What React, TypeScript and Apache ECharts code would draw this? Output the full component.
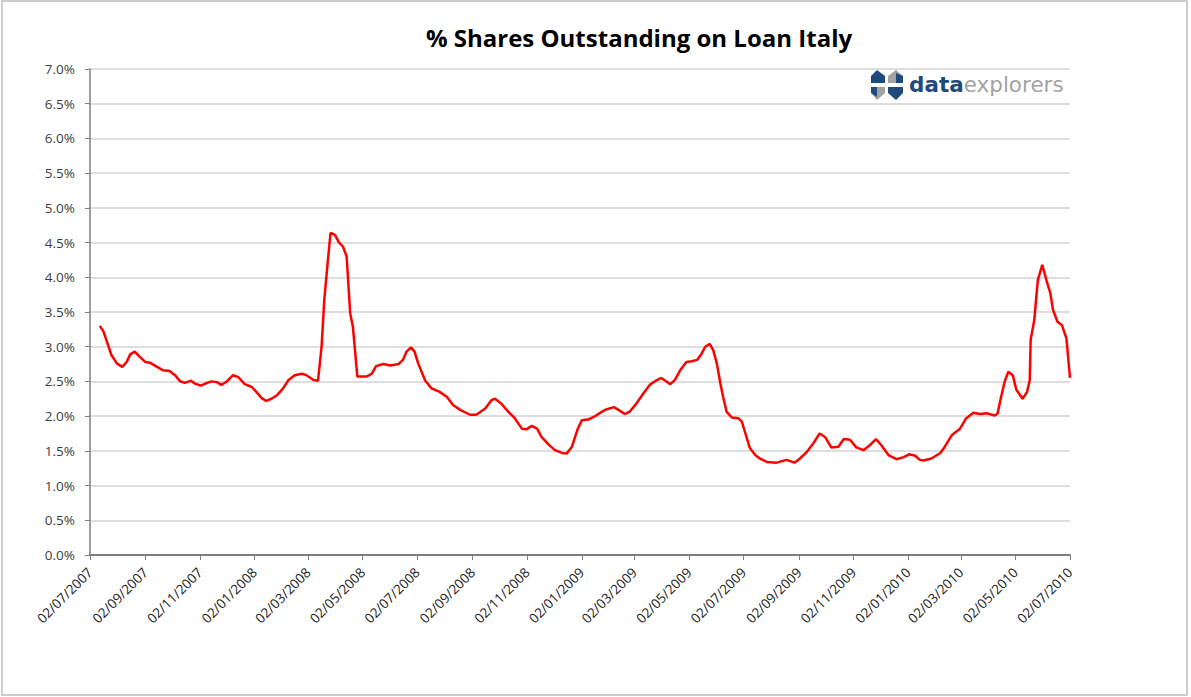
import React, { useEffect, useRef } from "react";
import * as echarts from "echarts";

const chartTitle = "% Shares Outstanding on Loan Italy";

const dates: string[] = [
  "2007-07-13","2007-07-17","2007-07-21","2007-07-26","2007-08-01","2007-08-07","2007-08-12","2007-08-16","2007-08-21","2007-08-27",
  "2007-09-02","2007-09-07","2007-09-15","2007-09-22","2007-09-29","2007-10-05","2007-10-11","2007-10-16","2007-10-23","2007-10-27",
  "2007-11-03","2007-11-08","2007-11-15","2007-11-21","2007-11-26","2007-12-02","2007-12-09","2007-12-15","2007-12-22","2007-12-30",
  "2008-01-04","2008-01-10","2008-01-15","2008-01-21","2008-01-27","2008-02-03","2008-02-09","2008-02-16","2008-02-24","2008-02-29",
  "2008-03-08","2008-03-13","2008-03-17","2008-03-20","2008-03-23","2008-03-27","2008-04-01","2008-04-05","2008-04-10","2008-04-14",
  "2008-04-18","2008-04-21","2008-04-26","2008-05-06","2008-05-12","2008-05-17","2008-05-25","2008-06-02","2008-06-11","2008-06-16",
  "2008-06-20","2008-06-25","2008-06-29","2008-07-03","2008-07-11","2008-07-18","2008-07-27","2008-08-04","2008-08-11","2008-08-19",
  "2008-08-30","2008-09-06","2008-09-16","2008-09-23","2008-09-27","2008-10-04","2008-10-12","2008-10-19","2008-10-27","2008-11-01",
  "2008-11-07","2008-11-13","2008-11-18","2008-11-26","2008-12-03","2008-12-11","2008-12-16","2008-12-22","2008-12-28","2009-01-02",
  "2009-01-09","2009-01-17","2009-01-24","2009-01-30","2009-02-07","2009-02-12","2009-02-19","2009-02-25","2009-03-04","2009-03-12",
  "2009-03-19","2009-03-27","2009-04-01","2009-04-11","2009-04-16","2009-04-22","2009-04-29","2009-05-05","2009-05-11","2009-05-16",
  "2009-05-20","2009-05-25","2009-05-29","2009-06-02","2009-06-06","2009-06-09","2009-06-13","2009-06-19","2009-06-26","2009-06-30",
  "2009-07-04","2009-07-09","2009-07-15","2009-07-20","2009-07-28","2009-08-08","2009-08-19","2009-08-28","2009-09-03","2009-09-11",
  "2009-09-18","2009-09-25","2009-10-01","2009-10-08","2009-10-16","2009-10-22","2009-10-29","2009-11-05","2009-11-13","2009-11-20",
  "2009-11-27","2009-12-03","2009-12-11","2009-12-20","2009-12-28","2010-01-03","2010-01-10","2010-01-15","2010-01-19","2010-01-28",
  "2010-02-07","2010-02-12","2010-02-20","2010-03-01","2010-03-08","2010-03-16","2010-03-23","2010-03-31","2010-04-09","2010-04-12",
  "2010-04-16","2010-04-20","2010-04-24","2010-04-29","2010-05-03","2010-05-10","2010-05-15","2010-05-18","2010-05-19","2010-05-23",
  "2010-05-27","2010-06-01","2010-06-06","2010-06-10","2010-06-13","2010-06-18","2010-06-23","2010-06-28","2010-07-02"
];

const loanPct: number[] = [
  3.30,3.22,3.07,2.88,2.76,2.71,2.78,2.89,2.93,2.85,
  2.78,2.77,2.71,2.66,2.65,2.59,2.50,2.48,2.51,2.47,
  2.44,2.47,2.50,2.49,2.45,2.50,2.59,2.56,2.46,2.42,
  2.35,2.26,2.22,2.25,2.30,2.40,2.52,2.59,2.61,2.59,
  2.52,2.51,3.00,3.67,4.10,4.64,4.61,4.51,4.44,4.30,
  3.48,3.29,2.57,2.57,2.61,2.72,2.75,2.73,2.75,2.81,
  2.93,2.99,2.93,2.76,2.51,2.40,2.35,2.28,2.16,2.09,
  2.02,2.02,2.11,2.23,2.25,2.18,2.06,1.97,1.82,1.81,
  1.86,1.82,1.70,1.59,1.51,1.47,1.46,1.56,1.80,1.94,
  1.95,2.00,2.06,2.10,2.13,2.09,2.03,2.07,2.18,2.33,
  2.45,2.52,2.55,2.46,2.52,2.66,2.78,2.79,2.81,2.90,
  3.00,3.04,2.95,2.76,2.47,2.28,2.06,1.98,1.97,1.92,
  1.75,1.54,1.44,1.39,1.34,1.33,1.37,1.33,1.39,1.49,
  1.61,1.75,1.70,1.55,1.56,1.67,1.66,1.55,1.51,1.58,
  1.67,1.58,1.44,1.38,1.41,1.45,1.43,1.37,1.36,1.39,
  1.47,1.56,1.73,1.82,1.97,2.05,2.03,2.04,2.01,2.04,
  2.28,2.50,2.64,2.59,2.38,2.25,2.35,2.52,3.10,3.38,
  3.96,4.18,3.94,3.77,3.53,3.36,3.31,3.12,2.55
];

const tickDates: string[] = [
  "2007-07-02","2007-09-02","2007-11-02","2008-01-02","2008-03-02","2008-05-02","2008-07-02",
  "2008-09-02","2008-11-02","2009-01-02","2009-03-02","2009-05-02","2009-07-02","2009-09-02",
  "2009-11-02","2010-01-02","2010-03-02","2010-05-02","2010-07-02"
];

const yMin = 0;
const yMax = 7;
const yStep = 0.5;

const DAY = 86400000;
const toDay = (s: string) => {
  const [y, m, d] = s.split("-").map(Number);
  return Math.round(Date.UTC(y, m - 1, d) / DAY);
};
const fmtDay = (v: number) => {
  const dt = new Date(Math.round(v) * DAY);
  const dd = String(dt.getUTCDate()).padStart(2, "0");
  const mm = String(dt.getUTCMonth() + 1).padStart(2, "0");
  return `${dd}/${mm}/${dt.getUTCFullYear()}`;
};

export default function App() {
  const ref = useRef<HTMLDivElement>(null);
  useEffect(() => {
    if (!ref.current) return;
    const chart = echarts.init(ref.current, undefined, { renderer: "svg" });
    const ticks = tickDates.map(toDay);
    const navy = "#1f4a7c";
    const grey = "#a3a3a3";
    chart.setOption({
      animation: false,
      backgroundColor: "#ffffff",
      title: {
        text: chartTitle,
        left: 634,
        top: 20,
        textAlign: "center",
        textStyle: { fontFamily: "Open Sans", fontWeight: "bold", fontSize: 24, color: "#000000" },
      },
      grid: { left: 90, right: 121, top: 69, bottom: 142 },
      xAxis: {
        type: "value",
        min: ticks[0],
        max: ticks[ticks.length - 1],
        axisLine: { show: true, lineStyle: { color: "#7f7f7f", width: 2 } },
        axisTick: { show: true, length: 5, lineStyle: { color: "#7f7f7f", width: 1 }, customValues: ticks },
        axisLabel: {
          customValues: ticks,
          rotate: 45,
          margin: 15,
          color: "#222222",
          fontFamily: "Open Sans",
          fontSize: 13.5,
          formatter: (v: number) => fmtDay(v),
        },
        splitLine: { show: false },
      },
      yAxis: {
        type: "value",
        min: yMin,
        max: yMax,
        interval: yStep,
        axisLine: { show: true, lineStyle: { color: "#7f7f7f", width: 1.5 } },
        axisTick: { show: true, length: 5, lineStyle: { color: "#7f7f7f" } },
        axisLabel: {
          color: "#404040",
          fontFamily: "Open Sans",
          fontSize: 13.5,
          margin: 15,
          formatter: (v: number) => v.toFixed(1) + "%",
        },
        splitLine: { show: true, lineStyle: { color: "#dedede", width: 2 } },
      },
      series: [
        {
          type: "line",
          data: dates.map((d, i) => [toDay(d), loanPct[i]]),
          showSymbol: false,
          lineStyle: { color: "#ff0000", width: 2.5 },
          z: 3,
        },
      ],
      graphic: [
        {
          type: "rect",
          shape: { x: 2, y: 1, width: 1185, height: 694 },
          style: { fill: "none", stroke: "#bfbfbf", lineWidth: 1.5 },
          silent: true,
        },
        {
          type: "group",
          x: 869,
          y: 70,
          children: [
            { type: "polygon", shape: { points: [[2, 6], [8, 0], [16, 6], [16, 13], [8, 13], [2, 13]] }, style: { fill: navy } },
            { type: "polygon", shape: { points: [[19, 6], [27, 0], [34, 6], [34, 13], [19, 13]] }, style: { fill: grey } },
            { type: "polygon", shape: { points: [[27, 3], [34, 6], [34, 13], [27, 13]] }, style: { fill: navy } },
            { type: "polygon", shape: { points: [[2, 17], [16, 17], [16, 23], [8, 30], [2, 23]] }, style: { fill: grey } },
            { type: "polygon", shape: { points: [[2, 17], [8, 17], [8, 27], [2, 23]] }, style: { fill: navy } },
            { type: "polygon", shape: { points: [[19, 17], [34, 17], [34, 23], [27, 30], [19, 23]] }, style: { fill: navy } },
          ],
        },
        {
          type: "text",
          x: 909,
          y: 73,
          style: {
            text: "{a|data}{b|explorers}",
            rich: {
              a: { fill: navy, fontFamily: "DejaVu Sans", fontSize: 21.5, fontWeight: "bold" },
              b: { fill: grey, fontFamily: "DejaVu Sans", fontSize: 21.5 },
            },
          },
        },
      ],
    });
    return () => chart.dispose();
  }, []);
  return (
    <div
      ref={ref}
      style={{ position: "fixed", left: 0, top: 0, width: 1191, height: 697 }}
    />
  );
}
